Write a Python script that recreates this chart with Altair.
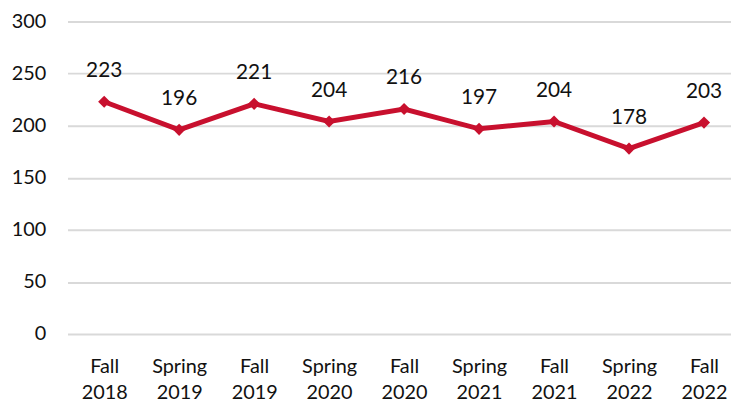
import altair as alt
import pandas as pd

terms = ["Fall\n2018", "Spring\n2019", "Fall\n2019", "Spring\n2020", "Fall\n2020",
         "Spring\n2021", "Fall\n2021", "Spring\n2022", "Fall\n2022"]
values = [223, 196, 221, 204, 216, 197, 204, 178, 203]

df = pd.DataFrame({"idx": list(range(len(terms))), "term": terms, "value": values})

FONT = "Lato"
RED = "#C8102E"

term_arr = "[" + ",".join("'" + t.replace("\n", "\\n") + "'" for t in terms) + "]"

x = alt.X("idx:Q",
          scale=alt.Scale(domain=[-0.489, 8.36], nice=False, zero=False),
          axis=alt.Axis(title=None, labelAngle=0, values=list(range(len(terms))),
                        labelExpr="split(" + term_arr + "[datum.value], '\\n')",
                        labelFontSize=20, labelFont=FONT, labelColor="#111111",
                        labelPadding=23, labelLineHeight=26, domain=False, ticks=False,
                        grid=False, labelBaseline="top", labelFlush=False, labelOverlap=False))
y = alt.Y("value:Q", scale=alt.Scale(domain=[0, 300], nice=False),
          axis=alt.Axis(title=None, values=[0, 50, 100, 150, 200, 250, 300],
                        labelFontSize=20, labelFont=FONT, labelColor="#111111",
                        labelPadding=22, domain=False, ticks=False,
                        gridColor="#d9d9d9", gridWidth=2))

base = alt.Chart(df).encode(x=x, y=y)

line = base.mark_line(color=RED, strokeWidth=5)
pts = base.mark_point(shape="diamond", filled=True, color=RED, size=150, opacity=1)
labels = base.mark_text(dy=-31, fontSize=21, font=FONT, color="#111111").encode(text="value:Q")

chart = (line + pts + labels).properties(
    width=669, height=315,
    autosize=alt.AutoSizeParams(type="none"),
    padding={"left": 60, "top": 12, "right": 0, "bottom": 76},
).configure_view(stroke=None)

chart.save("out.html", embed_options={"renderer": "svg", "actions": False})
